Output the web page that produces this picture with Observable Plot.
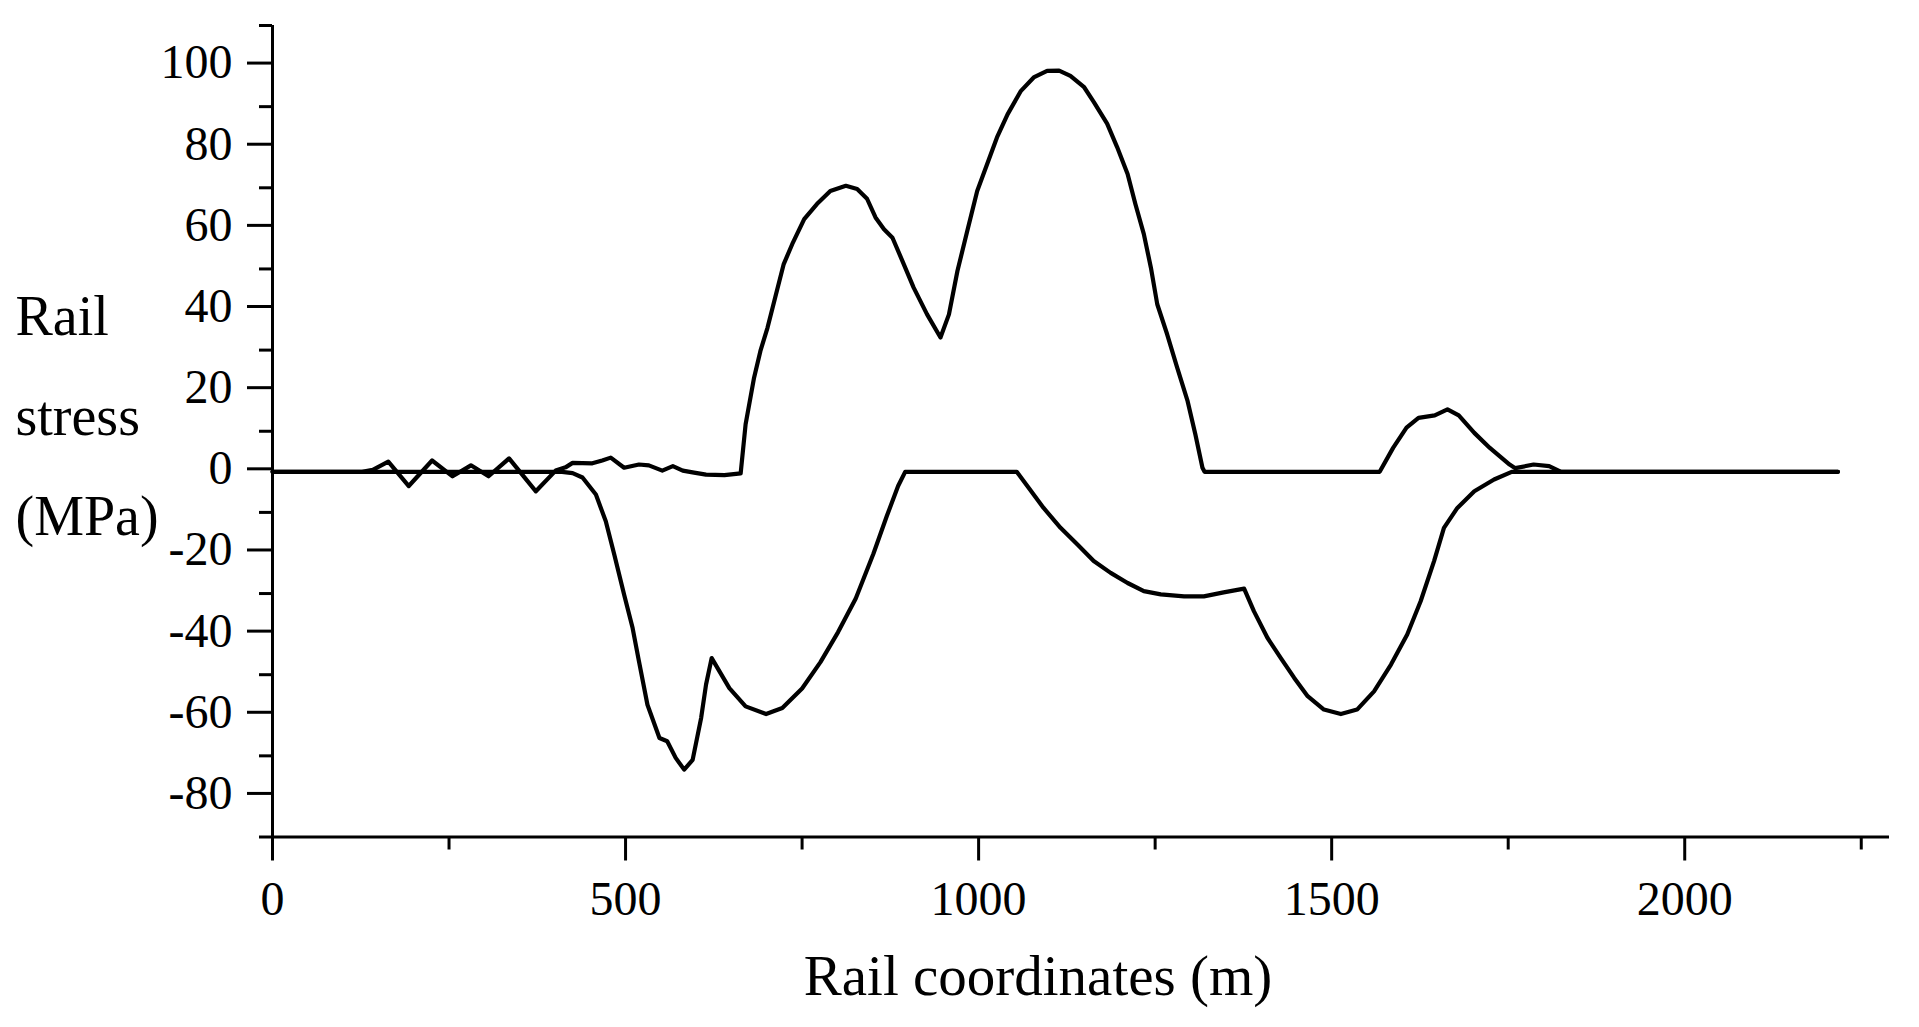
<!DOCTYPE html>
<html>
<head>
<meta charset="utf-8">
<script src="https://cdn.jsdelivr.net/npm/d3@7"></script>
<script src="https://cdn.jsdelivr.net/npm/@observablehq/plot@0.6"></script>
<style>
  html, body { margin: 0; padding: 0; background: #fff; }
  #chart svg { display: block; }
</style>
</head>
<body>
<div id="chart"></div>
<script>
// Upper curve (tension side)
const upperX = [0,127,142,164,193,226,255,281,306,335,373,401,415,425,453,467,479,498,519,533,552,567,581,597,614,640,663,670,682,691,701,712,724,736,753,771,790,812,828,842,854,866,878,892,908,927,946,958,970,984,998,1012,1026,1041,1060,1078,1097,1114,1130,1149,1163,1182,1196,1211,1222,1234,1244,1253,1267,1281,1296,1307,1317,1320,1568,1587,1606,1623,1646,1664,1680,1702,1724,1752,1760,1786,1808,1825,2217];
const upperY = [0,0,0.5,2.5,-3.5,2.8,-1.1,1.6,-1.1,3.3,-4.8,0.3,1.1,2.2,2.1,2.8,3.5,1.0,1.8,1.6,0.3,1.4,0.3,-0.2,-0.7,-0.8,-0.4,11.7,23.2,29.8,35.5,43,51.2,56.1,62.3,66,69.2,70.5,69.7,67.3,62.7,59.8,57.7,52,45.4,38.8,33.1,38.8,49.5,59.4,69.2,75.8,82.4,88.1,93.9,97.2,98.8,98.9,97.6,94.9,91.2,85.8,80.1,73.4,66,58.6,50.3,41.3,33.9,25.8,17.4,9.2,1,0,0,5.9,10.9,13.3,13.9,15.4,13.9,9.6,5.9,1.8,0.9,1.8,1.4,0,0];

// Lower curve (compression side)
const lowerX = [0,410,425,439,458,472,484,498,510,519,531,548,559,571,583,595,607,614,622,647,670,699,722,750,776,801,826,851,870,886,896,1054,1069,1092,1116,1140,1163,1187,1211,1234,1258,1291,1319,1347,1376,1390,1409,1428,1447,1466,1489,1513,1536,1560,1584,1607,1626,1645,1659,1678,1702,1730,1755,2217];
const lowerY = [0,0,-0.3,-1.4,-5.6,-12.2,-20.4,-30.3,-38.5,-46.7,-57.4,-65.6,-66.4,-70.5,-73.4,-71,-60.7,-52.4,-45.9,-53.3,-57.8,-59.7,-58.2,-53.4,-46.9,-39.5,-31.2,-20.2,-10.9,-3.5,0,0,-3.5,-8.9,-13.8,-17.9,-22,-24.9,-27.4,-29.4,-30.2,-30.7,-30.7,-29.7,-28.8,-34.4,-40.9,-45.9,-50.8,-55.3,-58.6,-59.7,-58.6,-54.1,-47.5,-40.1,-31.9,-22,-13.8,-8.9,-4.8,-1.9,0,0];

// Ticks
const yMajorTicks = [-80,-60,-40,-20,0,20,40,60,80,100];
const yMinorTicks = [-90,-70,-50,-30,-10,10,30,50,70,90,110];
const xMajorTicks = [0,500,1000,1500,2000];
const xMinorTicks = [250,750,1250,1750,2250];

const xDomain = [0, 2290];
const yDomain = [-90, 110];

const xTitle = "Rail coordinates (m)";
const yTitle = "Rail\nstress\n(MPa)";

const upper = upperX.map((x, i) => ({x, y: upperY[i]}));
const lower = lowerX.map((x, i) => ({x, y: lowerY[i]}));

const FONT = "'Liberation Serif', 'Times New Roman', serif";

const chart = Plot.plot({
  width: 1919,
  height: 1027,
  marginLeft: 272,
  marginRight: 30,
  marginTop: 25,
  marginBottom: 190.5,
  style: {fontFamily: FONT, color: "#000", background: "#fff"},
  x: {domain: xDomain},
  y: {domain: yDomain},
  marks: [
    // axis lines
    Plot.ruleX([xDomain[0]], {y1: yDomain[0], y2: yDomain[1], stroke: "#000", strokeWidth: 3}),
    Plot.ruleY([yDomain[0]], {x1: xDomain[0], x2: xDomain[1], stroke: "#000", strokeWidth: 3}),
    // y axis
    Plot.axisY(yMajorTicks, {anchor: "left", tickSize: 25, tickPadding: 15, strokeWidth: 3,
      tickFormat: d => String(d), fontSize: 48, fontFamily: FONT, fill: "#000", stroke: "#000", dy: -3, label: null}),
    Plot.axisY(yMinorTicks, {anchor: "left", tickSize: 13, strokeWidth: 3, stroke: "#000", fill: "none", label: null}),
    // x axis
    Plot.axisX(xMajorTicks, {anchor: "bottom", tickSize: 24, tickPadding: 20, strokeWidth: 3,
      tickFormat: d => String(d), fontSize: 48, fontFamily: FONT, fill: "#000", stroke: "#000", label: null}),
    Plot.axisX(xMinorTicks, {anchor: "bottom", tickSize: 13, strokeWidth: 3, stroke: "#000", fill: "none", label: null}),
    // curves
    Plot.line(upper, {x: "x", y: "y", stroke: "#000", strokeWidth: 4.2}),
    Plot.line(lower, {x: "x", y: "y", stroke: "#000", strokeWidth: 4.2}),
    // axis titles
    Plot.text([yTitle], {frameAnchor: "left", textAnchor: "start", lineAnchor: "middle",
      lineHeight: 100 / 56, fontSize: 56, fontFamily: FONT, fill: "#000", dx: -257, dy: -28}),
    Plot.text([xTitle], {frameAnchor: "bottom", textAnchor: "middle", lineAnchor: "bottom",
      fontSize: 57, fontFamily: FONT, fill: "#000", dx: -43, dy: 157.5})
  ]
});

document.getElementById("chart").appendChild(chart);
</script>
</body>
</html>
